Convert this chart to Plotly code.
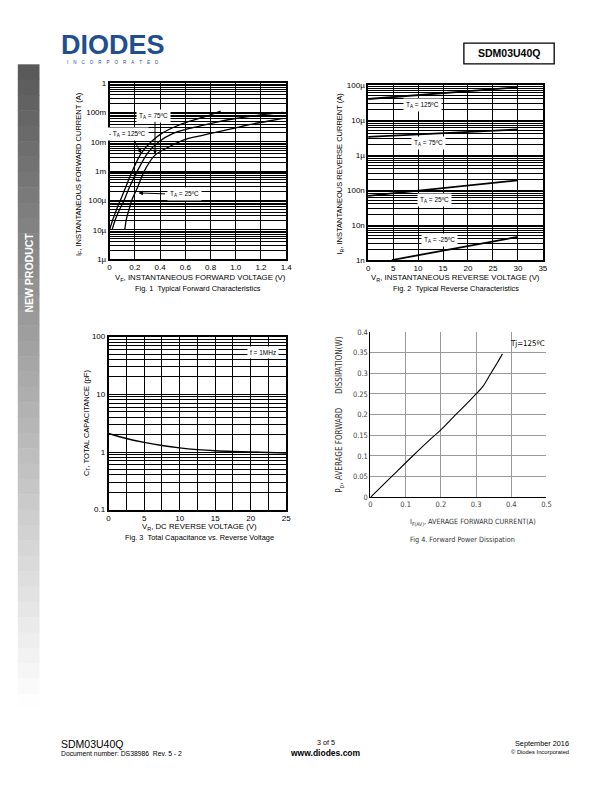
import math
import plotly.graph_objects as go

W, H = 612, 792
def px(x): return x / W
def py(y): return 1 - y / H

# ---------------- DATA ----------------
# Fig 1: forward characteristics (V, A)
f1_v_125 = [0.0, 0.03, 0.06, 0.085, 0.13, 0.18, 0.25, 0.33, 0.42, 0.5, 0.6, 0.71, 0.8, 0.88]
f1_i_125 = [1e-5, 2.5e-5, 5.5e-5, 1e-4, 3e-4, 1e-3, 4e-3, 1e-2, 2e-2, 3e-2, 4.5e-2, 6.3e-2, 8.3e-2, 1.1e-1]
f1_v_75 = [0.02, 0.05, 0.08, 0.115, 0.16, 0.22, 0.3, 0.39, 0.5, 0.6, 0.7, 0.84, 1.0, 1.2, 1.375]
f1_i_75 = [1e-5, 2.5e-5, 5e-5, 1e-4, 3e-4, 1e-3, 4e-3, 1e-2, 1.9e-2, 2.6e-2, 3.3e-2, 4.6e-2, 6.2e-2, 8.2e-2, 1.0e-1]
f1_v_25 = [0.12, 0.135, 0.155, 0.175, 0.225, 0.275, 0.36, 0.48, 0.6, 0.72, 0.84, 1.0, 1.1, 1.25, 1.375]
f1_i_25 = [1e-5, 2.5e-5, 5e-5, 1e-4, 3e-4, 1e-3, 3.5e-3, 7e-3, 1.2e-2, 1.6e-2, 2.1e-2, 3e-2, 3.8e-2, 5e-2, 6.3e-2]
f1_xticks = [0, 0.2, 0.4, 0.6, 0.8, 1.0, 1.2, 1.4]
f1_xlabels = ["0", "0.2", "0.4", "0.6", "0.8", "1.0", "1.2", "1.4"]
f1_ylabels = ["1µ", "10µ", "100µ", "1m", "10m", "100m", "1"]

# Fig 2: reverse characteristics (V, A)
f2_v_125 = [0, 30]
f2_i_125 = [4.0e-5, 8.6e-5]
f2_v_75 = [0, 30]
f2_i_75 = [3.3e-6, 5.4e-6]
f2_v_25 = [0, 30]
f2_i_25 = [6.8e-8, 1.9e-7]
f2_v_m25 = [4.75, 30]
f2_i_m25 = [1.0e-9, 4.6e-9]
f2_xticks = [0, 5, 10, 15, 20, 25, 30, 35]
f2_ylabels = ["1n", "10n", "100n", "1µ", "10µ", "100µ"]

# Fig 3: capacitance (V, pF)
f3_v = [0, 2.5, 5, 7.5, 10, 12.5, 15, 17.5, 20, 22.5, 25]
f3_c = [2.1, 1.72, 1.47, 1.3, 1.18, 1.1, 1.05, 1.02, 1.0, 0.98, 0.96]
f3_xticks = [0, 2.5, 5, 7.5, 10, 12.5, 15, 17.5, 20, 22.5, 25]
f3_xlabels = ["0", "", "5", "", "10", "", "15", "", "20", "", "25"]
f3_ylabels = ["0.1", "1", "10", "100"]

# Fig 4: power dissipation (A, W)
f4_i = [0, 0.06, 0.12, 0.18, 0.2, 0.24, 0.28, 0.3, 0.32, 0.34, 0.36, 0.375]
f4_p = [0, 0.05, 0.1, 0.148, 0.163, 0.198, 0.232, 0.25, 0.269, 0.297, 0.325, 0.347]
f4_xticks = [0, 0.1, 0.2, 0.3, 0.4, 0.5]
f4_xlabels = ["0", "0.1", "0.2", "0.3", "0.4", "0.5"]
f4_yticks = [0, 0.05, 0.1, 0.15, 0.2, 0.25, 0.3, 0.35, 0.4]
f4_ylabels = ["0", "0.05", "0.1", "0.15", "0.2", "0.25", "0.3", "0.35", "0.4"]

# ---------------- HELPERS ----------------
FONT = "Liberation Sans, Arial, sans-serif"
NARROW = "Liberation Sans Narrow, DejaVu Sans Condensed, Liberation Sans, Arial, sans-serif"

def log_ticks(e_lo, labels):
    vals, texts = [], []
    n = len(labels)
    for k in range(n):
        e = e_lo + k
        for m in range(1, 10):
            if k == n - 1 and m > 1:
                break
            vals.append(m * 10.0 ** e)
            texts.append(labels[k] if m == 1 else "")
    return vals, texts

fig = go.Figure()

def line(x, y, xa, ya, width=1.3):
    fig.add_trace(go.Scatter(x=x, y=y, mode="lines", xaxis=xa, yaxis=ya,
                             line=dict(color="black", width=width, shape="spline", smoothing=0.8),
                             showlegend=False, hoverinfo="skip"))

line(f1_v_125, f1_i_125, "x", "y")
line(f1_v_75, f1_i_75, "x", "y")
line(f1_v_25, f1_i_25, "x", "y")
line(f2_v_125, f2_i_125, "x2", "y2", 1.8)
line(f2_v_75, f2_i_75, "x2", "y2", 1.8)
line(f2_v_25, f2_i_25, "x2", "y2", 1.8)
line(f2_v_m25, f2_i_m25, "x2", "y2", 1.8)
line(f3_v, f3_c, "x3", "y3", 1.5)
line(f4_i, f4_p, "x4", "y4", 1.1)

tickfont = dict(family=FONT, size=8, color="black")
def grid_axis(**kw):
    d = dict(showline=True, linecolor="black", linewidth=1.5, mirror=True,
             showgrid=True, gridcolor="black", gridwidth=1, zeroline=False,
             ticks="", tickfont=tickfont, fixedrange=True)
    d.update(kw)
    return d

y1v, y1t = log_ticks(-6, f1_ylabels)
y2v, y2t = log_ticks(-9, f2_ylabels)
y3v, y3t = log_ticks(-1, f3_ylabels)

f4font = dict(family=NARROW, size=7.5, color="#444")
layout = dict(
    width=W, height=H, margin=dict(l=0, r=0, t=0, b=0),
    paper_bgcolor="white", plot_bgcolor="white", showlegend=False,
    xaxis=grid_axis(domain=[px(109), px(288)], anchor="y", range=[0, 1.4],
                    tickmode="array", tickvals=f1_xticks, ticktext=f1_xlabels),
    yaxis=grid_axis(domain=[py(258), py(80)], anchor="x", type="log", range=[-6, 0],
                    tickmode="array", tickvals=y1v, ticktext=y1t),
    xaxis2=grid_axis(domain=[px(371), px(548)], anchor="y2", range=[0, 35],
                     tickmode="array", tickvals=f2_xticks, ticktext=[str(v) for v in f2_xticks]),
    yaxis2=grid_axis(domain=[py(259), py(82)], anchor="x2", type="log", range=[-9, -4],
                     tickmode="array", tickvals=y2v, ticktext=y2t),
    xaxis3=grid_axis(domain=[px(108), px(288)], anchor="y3", range=[0, 25],
                     tickmode="array", tickvals=f3_xticks, ticktext=f3_xlabels),
    yaxis3=grid_axis(domain=[py(511.5), py(336.5)], anchor="x3", type="log", range=[-1, 2],
                     tickmode="array", tickvals=y3v, ticktext=y3t),
    xaxis4=dict(domain=[px(373.3), px(551.7)], anchor="y4", range=[0, 0.5],
                tickmode="array", tickvals=f4_xticks, ticktext=f4_xlabels,
                showline=True, linecolor="black", linewidth=1, mirror=False,
                showgrid=True, gridcolor="#9a9a9a", gridwidth=1, zeroline=False, ticks="",
                tickfont=f4font, fixedrange=True),
    yaxis4=dict(domain=[py(499), py(331.7)], anchor="x4", range=[0, 0.4],
                tickmode="array", tickvals=f4_yticks, ticktext=f4_ylabels,
                showline=True, linecolor="black", linewidth=1, mirror=False,
                showgrid=True, gridcolor="#9a9a9a", gridwidth=1, zeroline=False, ticks="",
                tickfont=f4font, fixedrange=True),
)
fig.update_layout(**layout)

ann = []
def text(x, y, t, size=7.5, family=FONT, color="black", xanchor="center", angle=0, **kw):
    d = dict(xref="paper", yref="paper", x=px(x), y=py(y), text=t, showarrow=False,
             font=dict(family=family, size=size, color=color), xanchor=xanchor,
             yanchor="middle", textangle=angle)
    d.update(kw)
    ann.append(d)

# axis titles and captions
text(201, 277, "V<sub>F</sub>, INSTANTANEOUS FORWARD VOLTAGE (V)", 7.8)
text(199, 288, "Fig. 1  Typical Forward Characteristics", 7.4)
text(78, 172, "I<sub>F</sub>, INSTANTANEOUS FORWARD CURRENT (A)", 7.5, angle=-90)
text(460, 277, "V<sub>R</sub>, INSTANTANEOUS REVERSE VOLTAGE (V)", 7.8)
text(460, 288, "Fig. 2  Typical Reverse Characteristics", 7.4)
text(343, 172, "I<sub>R</sub>, INSTANTANEOUS REVERSE CURRENT (A)", 7.5, angle=-90)
text(200, 529, "V<sub>R</sub>, DC REVERSE VOLTAGE (V)", 7.8)
text(200, 540, "Fig. 3  Total Capacitance vs. Reverse Voltage", 7.4)
text(86, 423, "C<sub>T</sub>, TOTAL CAPACITANCE (pF)", 7.5, angle=-90)
text(477, 524, "I<sub>F(AV)</sub>, AVERAGE FORWARD CURRENT(A)", 7.2, family=NARROW, color="#333")
text(467, 542, "Fig 4. Forward Power Dissipation", 7.2, family=NARROW, color="#333")
text(343, 416, "P<sub>D</sub>, AVERAGE FORWARD\u00a0\u00a0\u00a0\u00a0\u00a0\u00a0DISSIPATION(W)", 8,
     family=NARROW, color="#333", angle=-90)

# in-plot labels
def lab(xa, ya, x, y, t, size=6.5):
    ann.append(dict(xref=xa, yref=ya, x=x, y=y, text=t, showarrow=False,
                    font=dict(family=FONT, size=size, color="black"),
                    bgcolor="white", borderpad=2))

lab("x", "y", 0.352, -1.13, "T<sub>A</sub> = 75ºC")
lab("x", "y", 0.14, -1.72, "- T<sub>A</sub> = 125ºC")
lab("x", "y", 0.59, -3.79, "T<sub>A</sub> = 25ºC")
lab("x2", "y2", 10.9, -4.56, "T<sub>A</sub> = 125ºC")
lab("x2", "y2", 12.1, -5.65, "T<sub>A</sub> = 75ºC")
lab("x2", "y2", 13.2, -7.29, "T<sub>A</sub> = 25ºC")
lab("x2", "y2", 14.2, -8.43, "T<sub>A</sub> = -25ºC")
lab("x3", "y3", 21.7, 1.717, "f = 1MHz")
ann.append(dict(xref="x4", yref="y4", x=0.445, y=0.373, text="Tj=125ºC", showarrow=False,
                font=dict(family=NARROW, size=7.8, color="black")))

def arrow(x, y, ax, ay):
    ann.append(dict(xref="x", yref="y", x=x, y=y, ax=ax, ay=ay, text="", showarrow=True,
                    arrowhead=2, arrowsize=0.9, arrowwidth=1, arrowcolor="black",
                    standoff=0, startstandoff=0))

arrow(0.229, math.log10(1.8e-4), 28, 1)
arrow(0.25, -2.393, -7, -13)
arrow(0.36, -2.427, 0, -34)

# header
text(112.5, 41.5, "<b>DIODES</b>", 27, family="Liberation Sans, Arial", color="#1f4f8f",
     height=22, valign="middle")
sp = "\u00a0" * 4
text(112.5, 59, sp.join("INCORPORATED"), 4.5, family=FONT, color="#1f4f8f")
text(513.5, 50, "<b>SDM03U40Q</b>", 10.5)

# footer
text(58, 748, "SDM03U40Q", 10.5, xanchor="left")
text(58, 758, "Document number: DS38986  Rev. 5 - 2", 6.8, xanchor="left")
text(328, 747, "3 of 5", 7.2)
text(328, 758, "<b>www.diodes.com</b>", 8.5)
text(577, 748, "September 2016", 7.3, xanchor="right")
text(577, 757, "© Diodes Incorporated", 5.8, xanchor="right")

# sidebar text
text(27, 272, "<b>NEW PRODUCT</b>", 10.5, color="white", angle=-90)

fig.update_layout(annotations=ann)

shapes = []
# sidebar gradient
y0 = 61
n = 45
step = (760 - 61) / n
for k in range(n):
    ya = y0 + k * step
    g = int(min(255, 88 + 0.258 * (ya + step / 2 - 61)))
    shapes.append(dict(type="rect", xref="paper", yref="paper", x0=px(16), x1=px(38),
                       y0=py(ya + step + 0.5), y1=py(ya), fillcolor=f"rgb({g},{g},{g})",
                       line=dict(width=0), layer="below"))
# title box
shapes.append(dict(type="rect", xref="paper", yref="paper", x0=px(468), x1=px(559.5),
                   y0=py(60.5), y1=py(39.5), line=dict(color="black", width=1.3),
                   fillcolor="rgba(0,0,0,0)"))
fig.update_layout(shapes=shapes)

fig.write_html("out.html")
